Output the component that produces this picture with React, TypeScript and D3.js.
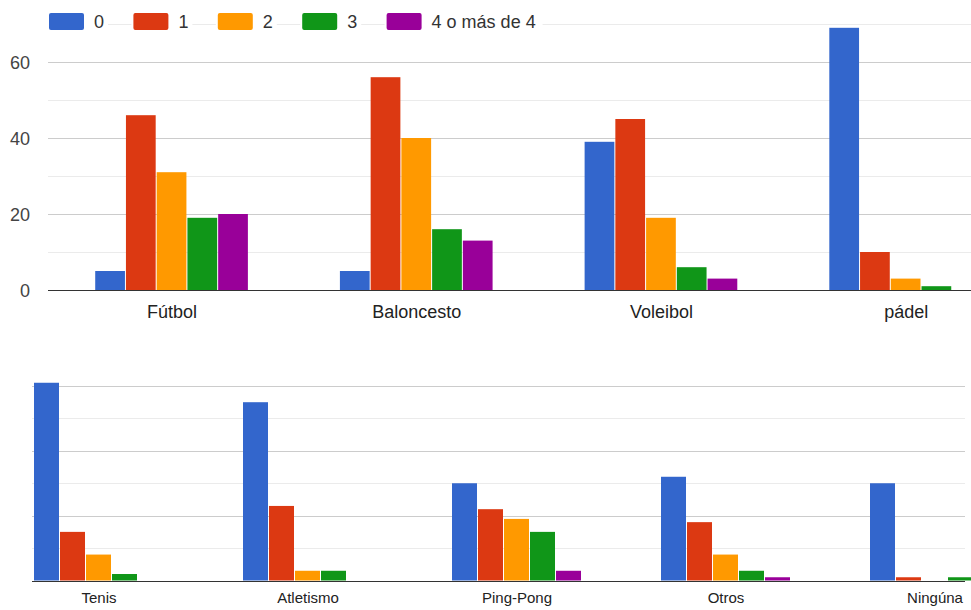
import React from "react";
import * as d3 from "d3";

// Series (number of times per week) and their colours
const seriesKeys = ["0", "1", "2", "3", "4 o más de 4"];
const seriesColors = ["#3366cc", "#dc3912", "#ff9900", "#109618", "#990099"];

// First panel
const topCategories = ["Fútbol", "Baloncesto", "Voleibol", "pádel"];
const topS0 = [5, 5, 39, 69];
const topS1 = [46, 56, 45, 10];
const topS2 = [31, 40, 19, 3];
const topS3 = [19, 16, 6, 1];
const topS4 = [20, 13, 3, 0];
const topTickLabels = [0, 20, 40, 60];
const topGridValues = [10, 20, 30, 40, 50, 60, 70];

// Second panel
const bottomCategories = ["Tenis", "Atletismo", "Ping-Pong", "Otros", "Ningúna"];
const botS0 = [61, 55, 30, 32, 30];
const botS1 = [15, 23, 22, 18, 1];
const botS2 = [8, 3, 19, 8, 0];
const botS3 = [2, 3, 15, 3, 1];
const botS4 = [0, 0, 3, 1, 0];
const bottomGridValues = [10, 20, 30, 40, 50, 60];

const W = 971;
const H = 610;
const FONT = "'Liberation Sans', Arial, sans-serif";

type PanelProps = {
  categories: string[];
  series: number[][];
  xRange: [number, number];
  padInner: number;
  y: d3.ScaleLinear<number, number>;
  gridValues: number[];
  gridX0: number;
  gridX1: number;
  labelSize: number;
  labelY: number;
  tickLabels?: number[];
};

function Panel(p: PanelProps) {
  const x = d3
    .scaleBand<string>()
    .domain(p.categories)
    .range(p.xRange)
    .paddingInner(p.padInner)
    .paddingOuter(p.padInner / 2);
  const sub = d3
    .scaleBand<string>()
    .domain(seriesKeys)
    .range([0, x.bandwidth()]);
  const y0 = p.y(0);

  return (
    <g>
      {p.gridValues.map((v) => (
        <line
          key={"g" + v}
          x1={p.gridX0}
          x2={p.gridX1}
          y1={Math.round(p.y(v)) + 0.5}
          y2={Math.round(p.y(v)) + 0.5}
          stroke={v % 20 === 0 ? "#cccccc" : "#ebebeb"}
          strokeWidth={1}
        />
      ))}
      {p.tickLabels &&
        p.tickLabels.map((v) => (
          <text
            key={"t" + v}
            x={30}
            y={p.y(v) + 6.5}
            textAnchor="end"
            fontSize={18}
            fontFamily={FONT}
            fill="#444"
          >
            {v}
          </text>
        ))}
      {p.categories.map((c, ci) => (
        <g key={c} transform={`translate(${x(c)},0)`}>
          {seriesKeys.map((k, si) => {
            const v = p.series[si][ci];
            if (!v) return null;
            const yt = p.y(v);
            return (
              <rect
                key={k}
                x={sub(k)!}
                y={yt}
                width={sub.bandwidth() - 1}
                height={y0 - yt}
                fill={seriesColors[si]}
              />
            );
          })}
        </g>
      ))}
      <line
        x1={p.gridX0}
        x2={p.gridX1}
        y1={Math.round(y0) + 0.5}
        y2={Math.round(y0) + 0.5}
        stroke="#333"
        strokeWidth={1.2}
      />
      {p.categories.map((c) => (
        <text
          key={"l" + c}
          x={x(c)! + x.bandwidth() / 2}
          y={p.labelY}
          textAnchor="middle"
          fontSize={p.labelSize}
          fontFamily={FONT}
          fill="#222"
        >
          {c}
        </text>
      ))}
    </g>
  );
}

function Legend() {
  const step = 84.4;
  const x0 = 49;
  return (
    <g>
      {seriesKeys.map((k, i) => {
        const sx = x0 + i * step;
        const tw = k.length > 2 ? 107 : 10;
        return (
          <g key={k}>
            <rect x={sx - 2} y={10} width={35 + 10 + tw + 6} height={24} fill="#fff" />
            <rect x={sx} y={13} width={35} height={17} rx={2} fill={seriesColors[i]} />
            <text
              x={sx + 45}
              y={28}
              fontSize={18}
              fontFamily={FONT}
              fill="#333"
            >
              {k}
            </text>
          </g>
        );
      })}
    </g>
  );
}

export default function App() {
  const yTop = d3.scaleLinear().domain([0, 60]).range([290, 62]);
  const yBottom = d3.scaleLinear().domain([0, 60]).range([580.5, 386]);

  return (
    <div style={{ position: "absolute", left: 0, top: 0 }}>
      <svg width={W} height={H} style={{ display: "block", background: "#fff" }}>
        <rect width={W} height={H} fill="#fff" />
        <Panel
          categories={topCategories}
          series={[topS0, topS1, topS2, topS3, topS4]}
          xRange={[49.7, 1028.5]}
          padInner={0.372}
          y={yTop}
          gridValues={topGridValues}
          gridX0={48}
          gridX1={W}
          labelSize={18}
          labelY={318}
          tickLabels={topTickLabels}
        />
        <Legend />
        <Panel
          categories={bottomCategories}
          series={[botS0, botS1, botS2, botS3, botS4]}
          xRange={[-5.5, 1039.5]}
          padInner={0.378}
          y={yBottom}
          gridValues={bottomGridValues}
          gridX0={32}
          gridX1={965}
          labelSize={15}
          labelY={603}
        />
      </svg>
    </div>
  );
}
